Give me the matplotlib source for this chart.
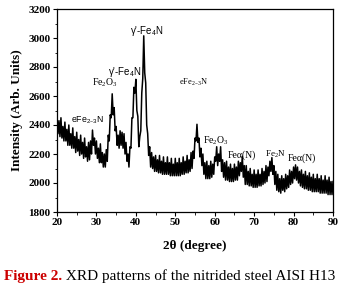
import numpy as np
import matplotlib
matplotlib.use("Agg")
import matplotlib.pyplot as plt
from matplotlib.ticker import MultipleLocator

# ---- data ----
# noisy XRD trace: upper noise excursions at 20.0, 20.5, ... 90.0 deg
intensity_upper = [
    2460, 2430, 2450, 2390, 2420, 2370, 2400, 2340, 2380, 2320,   # 20.0 - 24.5
    2350, 2300, 2330, 2280, 2310, 2250, 2280, 2290, 2365, 2310,   # 25.0 - 29.5
    2290, 2240, 2270, 2210, 2200, 2230, 2330, 2470, 2615, 2520,   # 30.0 - 34.5
    2390, 2330, 2360, 2350, 2340, 2280, 2200, 2250, 2450, 2660,   # 35.0 - 39.5
    2715, 2460, 2320, 2620, 3015, 2690, 2340, 2250, 2210, 2180,   # 40.0 - 44.5
    2190, 2160, 2190, 2150, 2180, 2140, 2180, 2140, 2170, 2130,   # 45.0 - 49.5
    2170, 2140, 2170, 2140, 2180, 2150, 2190, 2160, 2210, 2220,   # 50.0 - 54.5
    2310, 2405, 2310, 2240, 2200, 2140, 2150, 2120, 2150, 2130,   # 55.0 - 59.5
    2180, 2250, 2200, 2250, 2160, 2140, 2150, 2110, 2130, 2100,   # 60.0 - 64.5
    2130, 2110, 2150, 2140, 2185, 2120, 2120, 2080, 2100, 2060,   # 65.0 - 69.5
    2090, 2060, 2090, 2060, 2100, 2080, 2120, 2110, 2150, 2175,   # 70.0 - 74.5
    2120, 2080, 2060, 2030, 2050, 2030, 2060, 2050, 2090, 2080,   # 75.0 - 79.5
    2110, 2125, 2110, 2080, 2090, 2060, 2080, 2050, 2070, 2040,   # 80.0 - 84.5
    2060, 2030, 2060, 2030, 2050, 2020, 2050, 2020, 2040, 2010,   # 85.0 - 89.5
    2010,                                                         # 90.0
]
# lower noise excursions at 20.25, 20.75, ... 89.75 deg
intensity_lower = [
    2340, 2320, 2310, 2290, 2290, 2260, 2260, 2240, 2240, 2210,   # 20.25 - 24.75
    2220, 2190, 2200, 2170, 2180, 2150, 2160, 2200, 2260, 2200,   # 25.25 - 29.75
    2170, 2140, 2140, 2110, 2110, 2150, 2290, 2450, 2470, 2360,   # 30.25 - 34.75
    2260, 2240, 2260, 2240, 2200, 2150, 2110, 2240, 2450, 2620,   # 35.25 - 39.75
    2500, 2250, 2360, 2720, 2760, 2400, 2190, 2110, 2100, 2080,   # 40.25 - 44.75
    2080, 2070, 2070, 2060, 2060, 2060, 2060, 2050, 2050, 2050,   # 45.25 - 49.75
    2050, 2050, 2050, 2060, 2060, 2070, 2070, 2080, 2100, 2170,   # 50.25 - 54.75
    2290, 2280, 2180, 2120, 2060, 2030, 2030, 2030, 2040, 2060,   # 55.25 - 59.75
    2150, 2120, 2150, 2080, 2040, 2020, 2020, 2010, 2010, 2010,   # 60.25 - 64.75
    2020, 2020, 2050, 2080, 2040, 1990, 1990, 1980, 1980, 1970,   # 65.25 - 69.75
    1970, 1970, 1980, 1980, 1990, 2000, 2010, 2050, 2080, 2060,   # 70.25 - 74.75
    1990, 1950, 1940, 1930, 1950, 1940, 1960, 1970, 1990, 2000,   # 75.25 - 79.75
    2030, 2020, 2000, 1980, 1970, 1960, 1960, 1950, 1950, 1940,   # 80.25 - 84.75
    1940, 1940, 1940, 1930, 1930, 1930, 1930, 1920, 1920, 1920,   # 85.25 - 89.75
]

peak_labels = ["eFe$_{2\u20133}$N", "Fe$_2$O$_3$", "\u03b3'-Fe$_4$N", "\u03b3'-Fe$_4$N",
               "eFe$_{2\u20133}$N", "Fe$_2$O$_3$", "Fe\u03b1(N)", "Fe$_2$N", "Fe\u03b1(N)"]
label_x = [27.6, 32.2, 37.2, 42.8, 54.6, 60.2, 66.8, 75.4, 82.0]
label_y = [2435, 2690, 2766, 3045, 2697, 2290, 2190, 2200, 2170]
label_serif = [False, True, False, False, True, True, True, True, True]
label_size = [6.3, 7, 7, 7, 6, 7, 7, 6.5, 7]

x_ticks = [20, 30, 40, 50, 60, 70, 80, 90]
y_ticks = [1800, 2000, 2200, 2400, 2600, 2800, 3000, 3200]

# interleave the read excursions into one trace
trace = np.empty(len(intensity_upper) + len(intensity_lower))
trace[0::2] = intensity_upper
trace[1::2] = intensity_lower
two_theta = np.linspace(20, 90, len(trace))

# ---- figure ----
plt.rcParams["mathtext.default"] = "regular"
serif = "Liberation Serif"
sans = "Liberation Sans"

fig = plt.figure(figsize=(3.42, 2.88), dpi=100)
ax = fig.add_axes([57 / 342, 1 - 212 / 288, 276 / 342, 203 / 288])

ax.plot(two_theta, trace, color="black", lw=1.1)

ax.set_xlim(20, 90)
ax.set_ylim(1800, 3200)
ax.set_xticks(x_ticks)
ax.set_yticks(y_ticks)
ax.xaxis.set_minor_locator(MultipleLocator(5))
ax.yaxis.set_minor_locator(MultipleLocator(100))
ax.tick_params(which="major", direction="out", length=3, width=0.8, pad=1.5)
ax.tick_params(which="minor", direction="out", length=1.8, width=0.6)
for lab in ax.get_xticklabels() + ax.get_yticklabels():
    lab.set_fontfamily(serif)
    lab.set_fontweight("bold")
    lab.set_fontsize(8)
for sp in ax.spines.values():
    sp.set_linewidth(0.9)

ax.set_xlabel("2\u03b8 (degree)", fontfamily=serif, fontweight="bold", fontsize=9.5, labelpad=9)
ax.set_ylabel("Intensity (Arb. Units)", fontfamily=serif, fontweight="bold", fontsize=9.5, labelpad=4)

for txt, lx, ly, sf, fs in zip(peak_labels, label_x, label_y, label_serif, label_size):
    ax.text(lx, ly, txt, ha="center", va="center", fontsize=fs,
            fontfamily=serif if sf else sans, color="black")

t1 = fig.text(4 / 342, 1 - 280 / 288, "Figure 2.", color="#cc0000", fontfamily=serif,
              fontweight="bold", fontsize=11, va="baseline", ha="left")
fig.canvas.draw()
ax.annotate(" XRD patterns of the nitrided steel AISI H13", xy=(1, 0), xycoords=t1,
            va="bottom", ha="left", fontfamily=serif, fontsize=11, color="black",
            annotation_clip=False)

fig.savefig("out.png", dpi=100)
